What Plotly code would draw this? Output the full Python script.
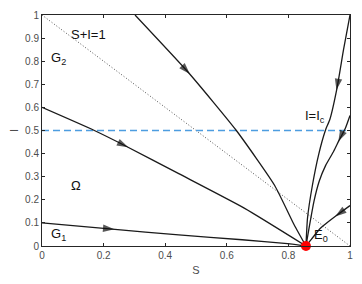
import plotly.graph_objects as go

# Equilibrium
E0 = (0.857, 0.0)
I_c = 0.5

# Trajectories (S, I)
c1_S = [0.0, 0.228, 0.444, 0.65, 0.797, 0.857]
c1_I = [0.1, 0.073, 0.048, 0.027, 0.01, 0.0]
c2_S = [0.0, 0.17, 0.273, 0.444, 0.658, 0.857]
c2_I = [0.6, 0.5, 0.432, 0.313, 0.163, 0.0]
c3_S = [0.302, 0.476, 0.631, 0.755, 0.819, 0.857]
c3_I = [1.0, 0.75, 0.5, 0.263, 0.091, 0.0]
c4_S = [1.0, 0.979, 0.958, 0.935, 0.92, 0.899, 0.878, 0.862, 0.857]
c4_I = [1.0, 0.85, 0.685, 0.55, 0.5, 0.4, 0.263, 0.12, 0.0]
c5_S = [1.0, 0.985, 0.964, 0.947, 0.921, 0.9, 0.883, 0.867, 0.857]
c5_I = [0.565, 0.51, 0.456, 0.41, 0.349, 0.28, 0.193, 0.077, 0.0]
c6_S = [1.0, 0.958, 0.904, 0.875, 0.857]
c6_I = [0.175, 0.134, 0.077, 0.03, 0.0]

# Arrow positions: (previous point, arrow point)
arrows = [
    ((0.15, 0.082), (0.235, 0.0725)),
    ((0.2, 0.48), (0.28, 0.427)),
    ((0.42, 0.83), (0.48, 0.745)),
    ((0.965, 0.74), (0.956, 0.675)),
    ((0.98, 0.5), (0.962, 0.452)),
    ((0.975, 0.15), (0.952, 0.128)),
]

xticks = [0, 0.2, 0.4, 0.6, 0.8, 1]
yticks = [0, 0.1, 0.2, 0.3, 0.4, 0.5, 0.6, 0.7, 0.8, 0.9, 1]

fig = go.Figure()

# S+I=1 dotted line
fig.add_trace(go.Scatter(x=[0, 1], y=[1, 0], mode="lines",
                         line=dict(color="#555555", width=1, dash="1px,2px"),
                         showlegend=False, hoverinfo="skip"))
# I = I_c dashed line
fig.add_trace(go.Scatter(x=[0, 1], y=[I_c, I_c], mode="lines",
                         line=dict(color="#4d9de0", width=1.5, dash="7px,4px"),
                         showlegend=False, hoverinfo="skip"))

for xs, ys in [(c1_S, c1_I), (c2_S, c2_I), (c3_S, c3_I),
               (c4_S, c4_I), (c5_S, c5_I), (c6_S, c6_I)]:
    fig.add_trace(go.Scatter(x=xs, y=ys, mode="lines",
                             line=dict(color="#1a1a1a", width=1.3, shape="spline", smoothing=0.5),
                             showlegend=False, hoverinfo="skip"))

for (p0, p1) in arrows:
    fig.add_trace(go.Scatter(x=[p0[0], p1[0]], y=[p0[1], p1[1]], mode="markers",
                             marker=dict(symbol="arrow", size=[0, 12], angleref="previous",
                                         color="#111111", line=dict(width=0)),
                             showlegend=False, hoverinfo="skip"))

fig.add_trace(go.Scatter(x=[E0[0]], y=[E0[1]], mode="markers",
                         marker=dict(color="#ff0000", size=10, line=dict(width=0)),
                         cliponaxis=False, showlegend=False, hoverinfo="skip"))

lab_font = dict(family="Liberation Sans, Arial", size=13, color="#111111")
annots = [
    dict(x=0.15, y=0.915, text="S+I=1"),
    dict(x=0.055, y=0.81, text="G<sub>2</sub>"),
    dict(x=0.885, y=0.56, text="I=I<sub>c</sub>"),
    dict(x=0.11, y=0.26, text="Ω"),
    dict(x=0.055, y=0.05, text="G<sub>1</sub>"),
    dict(x=0.905, y=0.045, text="E<sub>0</sub>"),
]
for a in annots:
    fig.add_annotation(x=a["x"], y=a["y"], text=a["text"], showarrow=False,
                       font=lab_font, xanchor="center", yanchor="middle")

axis_common = dict(range=[0, 1], showline=True, linecolor="#262626", linewidth=1,
                   mirror="allticks", ticks="inside", ticklen=3, tickcolor="#262626",
                   showgrid=False, zeroline=False,
                   tickfont=dict(family="Liberation Sans, Arial", size=10, color="#4d4d4d"))

fig.update_layout(
    width=362, height=284,
    margin=dict(l=42, r=9, t=15, b=36),
    paper_bgcolor="white", plot_bgcolor="white",
    xaxis=dict(**axis_common, tickvals=xticks, ticktext=[str(v) for v in xticks],
               title=dict(text="S", standoff=6,
                          font=dict(family="Liberation Sans, Arial", size=11, color="#4d4d4d"))),
    yaxis=dict(**axis_common, tickvals=yticks, ticktext=[str(v) for v in yticks],
               title=dict(text="I", standoff=4,
                          font=dict(family="Liberation Sans, Arial", size=11, color="#4d4d4d"))),
)

fig.write_html("out.html", config={"displayModeBar": False},
               post_script="document.body.style.margin='0';document.body.style.padding='0';")
